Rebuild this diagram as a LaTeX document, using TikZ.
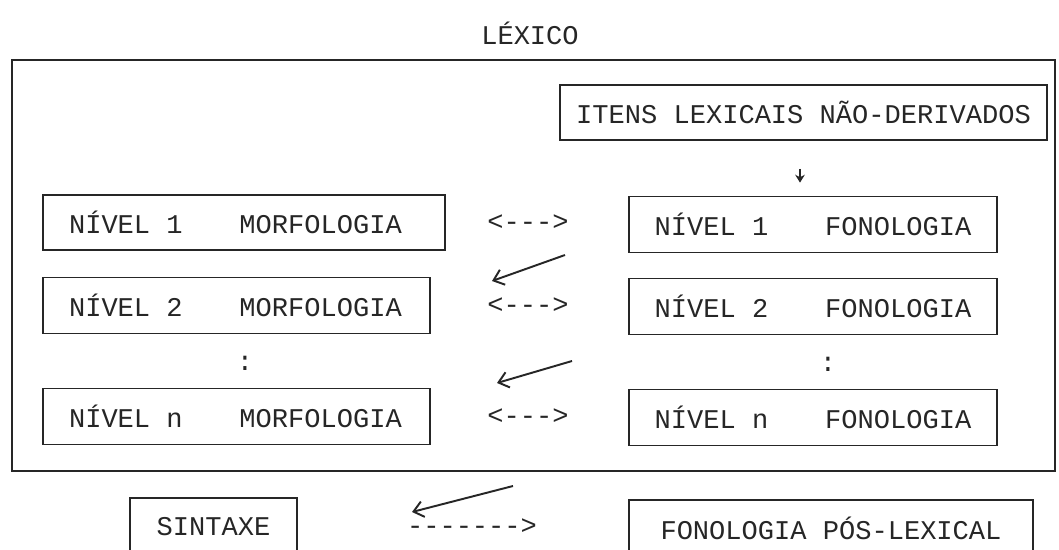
\documentclass[tikz,border=0pt]{standalone}
\usepackage{fontspec}
\setmonofont{Liberation Mono}
\usetikzlibrary{arrows.meta}
\definecolor{ink}{HTML}{262626}
\newcommand\nivel[2]{N\'IVEL\hspace{0.6em}#1\hspace{2.1em}#2}

\begin{document}
\begin{tikzpicture}[x=0.02cm,y=-0.02cm,
  every node/.style={font=\ttfamily\fontsize{15.4}{18}\selectfont, text=ink},
  box/.style={draw=ink, line width=1pt, minimum height=1.12cm, inner xsep=0.52cm, inner ysep=0pt},
  lbox/.style={box, text width=6.7cm, align=left},
  rbox/.style={box, minimum width=7.36cm},
  pen/.style={draw=ink, line width=1.1pt, -{Straight Barb[length=5.5pt,width=9pt]}}]
\useasboundingbox (0,0) rectangle (1059,549);
\clip (0,0) rectangle (1059,549);
\fill[white] (0,0) rectangle (1059,549);

% titulo e moldura do lexico
\node (lexico) at (530,33) {LÉXICO};
\draw[ink, line width=1.1pt] (12,60) rectangle (1055,471);

% itens de entrada
\node[box, minimum width=9.74cm, minimum height=1.1cm, inner xsep=0.2cm] (itens) at (803.5,112.5) {ITENS LEXICAIS NÃO-DERIVADOS};

% niveis: morfologia a esquerda, fonologia a direita
\node[lbox, text width=7cm, minimum height=1.1cm] (morf1) at (244,222.5) {\nivel{1}{MORFOLOGIA}};
\node[lbox] (morf2) at (236.5,305.5) {\nivel{2}{MORFOLOGIA}};
\node[lbox] (morfn) at (236.5,416.5) {\nivel{n}{MORFOLOGIA}};
\node[rbox] (fon1) at (813,224.5) {\nivel{1}{FONOLOGIA}};
\node[rbox] (fon2) at (813,306.5) {\nivel{2}{FONOLOGIA}};
\node[rbox] (fonn) at (813,417.5) {\nivel{n}{FONOLOGIA}};

\node (dots1) at (245,363) {:};
\node (dots2) at (828,364) {:};

\node (bi1) at (528,223) {<--->};
\node (bi2) at (528,306) {<--->};
\node (bin) at (528,417) {<--->};

% pos-lexical
\node[box, minimum width=3.34cm, minimum height=1.16cm] (sintaxe) at (213.5,527) {SINTAXE};
\node[box, minimum width=8.08cm] (poslex) at (831,528) {FONOLOGIA PÓS-LEXICAL};
\node (uni) at (472,527) {------->};

% setas
\draw[ink, line width=0.9pt, -{Stealth[length=4.5pt,width=5.5pt]}, shorten <=0.56cm, shorten >=0.26cm]
  ([xshift=-0.07cm]itens.south) -- ([xshift=-0.07cm]itens.south |- fon1.north);
\coordinate (a1s) at (565,255); \coordinate (a1e) at (492,281);
\coordinate (a2s) at (572,361); \coordinate (a2e) at (497,383);
\coordinate (a3s) at (513,486); \coordinate (a3e) at (412,512);
\draw[pen] (a1s) -- (a1e);
\draw[pen] (a2s) -- (a2e);
\draw[pen] (a3s) -- (a3e);
\end{tikzpicture}
\end{document}
